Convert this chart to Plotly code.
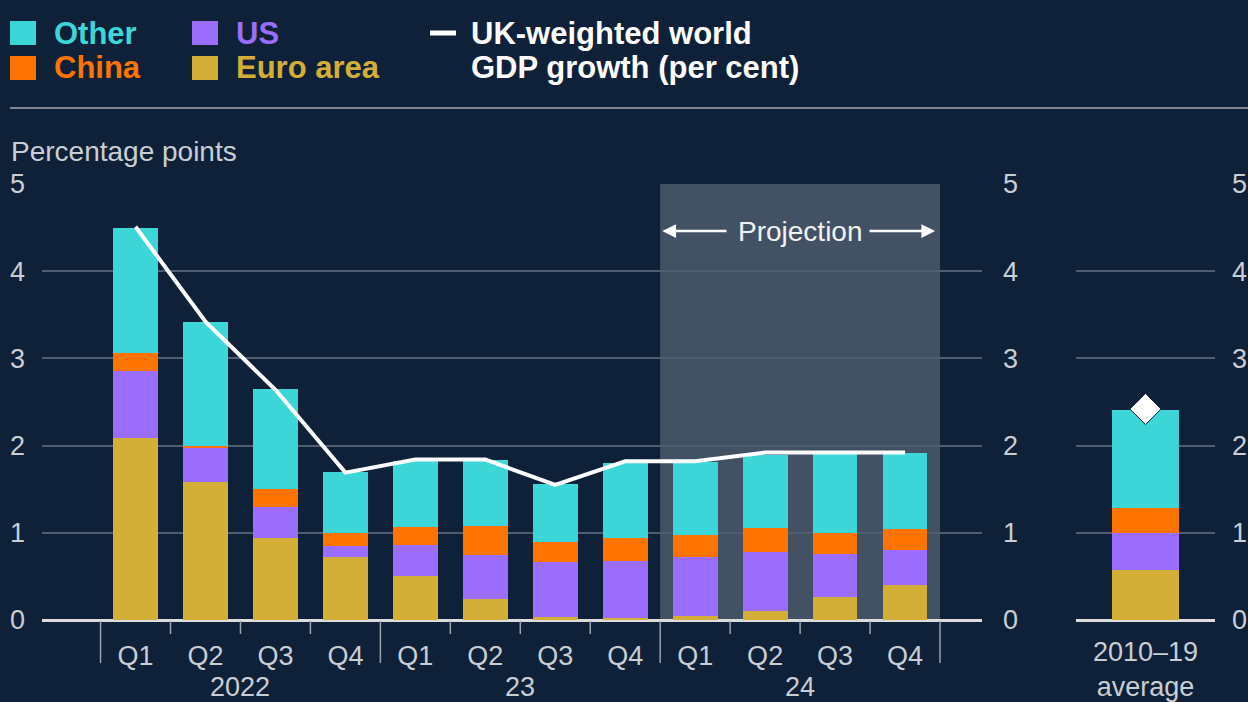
import plotly.graph_objects as go

# ---------------- data ----------------
quarters = ["Q1", "Q2", "Q3", "Q4", "Q1", "Q2", "Q3", "Q4", "Q1", "Q2", "Q3", "Q4"]
years = ["2022", "23", "24"]
year_of_quarter = [0, 0, 0, 0, 1, 1, 1, 1, 2, 2, 2, 2]
projection_start = 8  # first projected quarter index

euro_area = [2.09, 1.58, 0.94, 0.72, 0.50, 0.24, 0.04, 0.02, 0.05, 0.10, 0.26, 0.40]
us = [0.76, 0.39, 0.36, 0.13, 0.36, 0.50, 0.62, 0.66, 0.67, 0.68, 0.50, 0.40]
china = [0.21, 0.03, 0.20, 0.15, 0.21, 0.34, 0.23, 0.26, 0.25, 0.28, 0.24, 0.24]
other = [1.44, 1.42, 1.15, 0.70, 0.75, 0.76, 0.67, 0.86, 0.84, 0.83, 0.90, 0.87]
world_gdp = [4.51, 3.42, 2.64, 1.69, 1.84, 1.84, 1.55, 1.82, 1.82, 1.92, 1.92, 1.92]

avg_label = "2010–19<br>average"
avg_euro, avg_us, avg_china, avg_other = 0.57, 0.43, 0.28, 1.13
avg_world = 2.42

y_ticks = [0, 1, 2, 3, 4, 5]

# ---------------- styles ----------------
W, H = 1248, 702
BG = "#0f2139"
C_OTHER = "#3dd6d8"
C_CHINA = "#ff7300"
C_US = "#9b6dfc"
C_EURO = "#d4af37"
GRID = "#4f5d71"
TICK = "#c9ced4"
FONT = "Liberation Sans, Arial, sans-serif"
TS = 27

def py(p):  # pixel row -> paper fraction
    return (H - p) / H

def px(p):  # pixel column -> paper fraction
    return p / W

xi = list(range(len(quarters)))
series = [("Euro area", euro_area, C_EURO, avg_euro),
          ("US", us, C_US, avg_us),
          ("China", china, C_CHINA, avg_china),
          ("Other", other, C_OTHER, avg_other)]

fig = go.Figure()
for name, vals, col, avg in series:
    fig.add_trace(go.Bar(x=xi, y=vals, name=name, marker=dict(color=col, line=dict(width=0)),
                         width=0.64, xaxis="x", yaxis="y", showlegend=False))
    fig.add_trace(go.Bar(x=[0], y=[avg], name=name, marker=dict(color=col, line=dict(width=0)),
                         width=0.97, xaxis="x2", yaxis="y2", showlegend=False))

fig.add_trace(go.Scatter(x=xi, y=world_gdp, mode="lines", line=dict(color="white", width=4),
                         xaxis="x", yaxis="y3", showlegend=False))
fig.add_trace(go.Scatter(x=[0], y=[avg_world], mode="markers",
                         marker=dict(symbol="diamond", size=24, color="white",
                                     line=dict(color=BG, width=1)),
                         xaxis="x2", yaxis="y2", showlegend=False))

ydom = [py(620), py(184)]
yax_common = dict(range=[0, 5], tickvals=y_ticks, domain=ydom, showline=False, ticks="",
                  automargin=False,
                  tickfont=dict(size=TS, color=TICK, family=FONT), fixedrange=True)

fig.update_layout(
    template="none",
    width=W, height=H, paper_bgcolor=BG, plot_bgcolor=BG, barmode="stack",
    margin=dict(l=0, r=0, t=0, b=0, autoexpand=False), font=dict(family=FONT),
    bargap=0,
    xaxis=dict(domain=[px(42), px(982)], range=[-1.337, 12.10], tickvals=xi, ticktext=quarters,
               showgrid=False, zeroline=False, showline=False, ticks="", automargin=False,
               tickfont=dict(size=TS, color=TICK, family=FONT), ticklabelstandoff=17,
               anchor="y", fixedrange=True),
    yaxis=dict(**yax_common, anchor="x", side="left", showgrid=True, gridcolor=GRID, gridwidth=2,
               zeroline=True, zerolinecolor="#dcdcdc", zerolinewidth=3, ticklabelstandoff=16),
    yaxis3=dict(**yax_common, anchor="x", overlaying="y", side="right", showgrid=False,
                zeroline=False, ticklabelstandoff=20),
    xaxis2=dict(domain=[px(1076), px(1215)], range=[-1, 1], tickvals=[0], ticktext=[avg_label],
                showgrid=False, zeroline=False, showline=False, ticks="", automargin=False,
                tickfont=dict(size=TS, color=TICK, family=FONT), ticklabelstandoff=13,
                anchor="y2", fixedrange=True),
    yaxis2=dict(**yax_common, anchor="x2", side="right", showgrid=True, gridcolor=GRID,
                gridwidth=2, zeroline=True, zerolinecolor="#dcdcdc", zerolinewidth=3,
                ticklabelstandoff=16),
)

shapes = []
# projection shading
shapes.append(dict(type="rect", xref="x", yref="y", x0=projection_start - 0.5, x1=len(quarters) - 0.5,
                   y0=0, y1=5, fillcolor="rgba(255,255,255,0.22)", line=dict(width=0), layer="below"))
# category separators
for i in range(len(quarters) + 1):
    b = i - 0.5
    is_year = (i == 0) or (i == len(quarters)) or (year_of_quarter[i] != year_of_quarter[i - 1])
    shapes.append(dict(type="line", xref="x", yref="paper", x0=b, x1=b,
                       y0=py(621), y1=py(663 if is_year else 634),
                       line=dict(color="#9aa3ae", width=1.5)))
# separator under legend
shapes.append(dict(type="line", xref="paper", yref="paper", x0=px(10), x1=1, y0=py(108), y1=py(108),
                   line=dict(color="#7d8794", width=2)))

annotations = []
# year labels
for k, yr in enumerate(years):
    idx = [i for i, y in enumerate(year_of_quarter) if y == k]
    annotations.append(dict(text=yr, xref="x", yref="paper", x=sum(idx) / len(idx), y=py(687),
                            showarrow=False, font=dict(size=TS, color=TICK, family=FONT),
                            xanchor="center", yanchor="middle"))
# axis title
annotations.append(dict(text="Percentage points", xref="paper", yref="paper", x=px(9), y=py(152),
                        showarrow=False, xanchor="left", yanchor="middle",
                        font=dict(size=28, color=TICK, family=FONT)))
# projection label and arrows
mid = (projection_start - 0.5 + len(quarters) - 0.5) / 2
annotations.append(dict(text="Projection", xref="x", yref="y", x=mid, y=4.46, showarrow=False,
                        font=dict(size=28, color="#f2f2f2", family=FONT)))
for head, tail in [(7.53, 8.47), (11.43, 10.47)]:
    annotations.append(dict(text="", xref="x", yref="y", x=head, y=4.46, ax=tail, ay=4.46,
                            axref="x", ayref="y", showarrow=True, arrowhead=2, arrowsize=1.1,
                            arrowwidth=2.5, arrowcolor="white"))

# manual legend
LS = 31
legend_items = [("Other", C_OTHER, 10, 33), ("China", C_CHINA, 10, 68),
                ("US", C_US, 192, 33), ("Euro area", C_EURO, 192, 68)]
for name, col, x0, yc in legend_items:
    shapes.append(dict(type="rect", xref="paper", yref="paper", x0=px(x0), x1=px(x0 + 26),
                       y0=py(yc + 12), y1=py(yc - 12), fillcolor=col, line=dict(width=0)))
    annotations.append(dict(text="<b>%s</b>" % name, xref="paper", yref="paper", x=px(x0 + 42),
                            y=py(yc), xanchor="left", yanchor="middle", showarrow=False,
                            font=dict(size=LS, color=col, family=FONT)))
shapes.append(dict(type="line", xref="paper", yref="paper", x0=px(430), x1=px(456),
                   y0=py(33), y1=py(33), line=dict(color="white", width=5)))
annotations.append(dict(text="<b>UK-weighted world</b>", xref="paper", yref="paper", x=px(469),
                        y=py(33), xanchor="left", yanchor="middle", showarrow=False,
                        font=dict(size=LS, color="white", family=FONT)))
annotations.append(dict(text="<b>GDP growth (per cent)</b>", xref="paper", yref="paper", x=px(469),
                        y=py(68), xanchor="left", yanchor="middle", showarrow=False,
                        font=dict(size=LS, color="white", family=FONT)))

fig.update_layout(shapes=shapes, annotations=annotations)
fig.write_html("out.html", config={"displayModeBar": False},
               post_script="document.body.style.margin='0';document.body.style.background='%s';" % BG)
